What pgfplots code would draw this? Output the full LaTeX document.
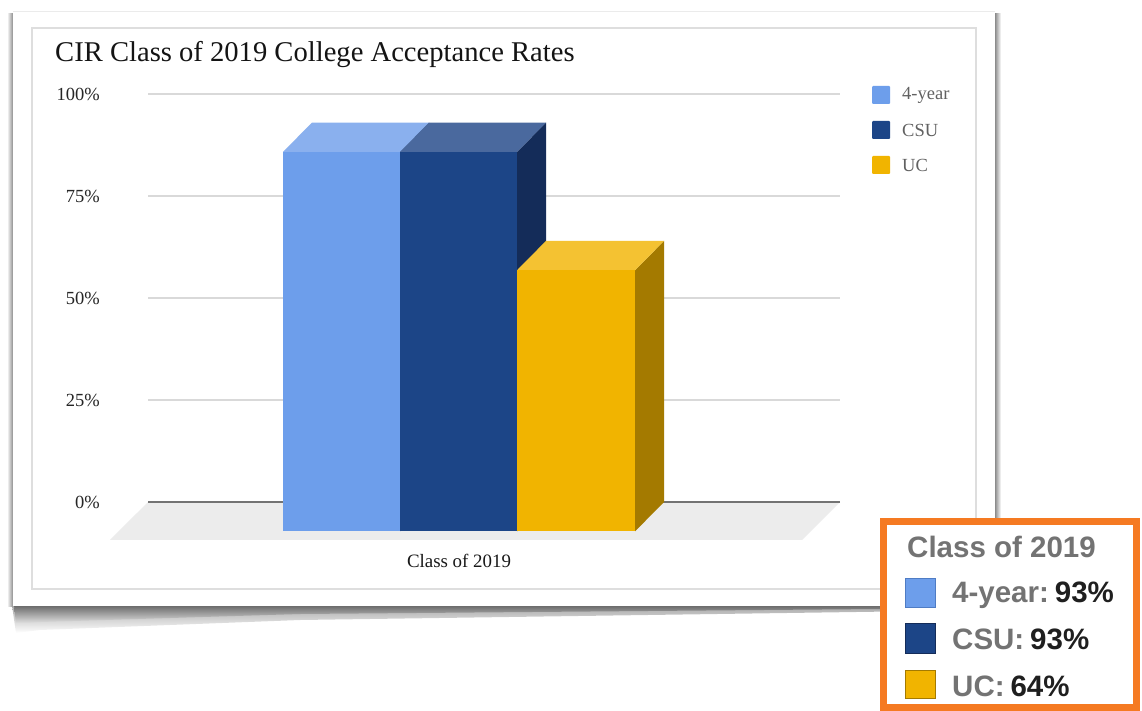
\documentclass[border=0pt]{standalone}
\usepackage{fontspec}
\setmainfont{Liberation Serif}
\newfontfamily\calloutfont{Liberation Sans}
\usepackage{pgfplots}
\pgfplotsset{compat=1.18}

\definecolor{fouryr}{HTML}{6D9EEB}
\definecolor{fouryrtop}{HTML}{8AB0EE}
\definecolor{fouryrside}{HTML}{4F7CC4}
\definecolor{csu}{HTML}{1C4587}
\definecolor{csutop}{HTML}{4A699E}
\definecolor{csuside}{HTML}{142C59}
\definecolor{uc}{HTML}{F1B400}
\definecolor{uctop}{HTML}{F4C232}
\definecolor{ucside}{HTML}{A47A00}
\definecolor{floorc}{HTML}{ECECEC}
\definecolor{gridc}{HTML}{D9D9D9}
\definecolor{orangebox}{HTML}{F57A22}

\begin{document}
\begin{tikzpicture}[x=1pt,y=1pt]
  \useasboundingbox (0,0) rectangle (1142,-711);

  % card with its curled shadow
  \shade[top color=black!35, bottom color=white]
    (12,-605) -- (995,-605) -- (995,-610) -- (300,-620) -- (40,-630) -- (16,-633) -- cycle;
  \shade[top color=black!60, bottom color=black!10]
    (14,-605) -- (995,-605) -- (995,-608) -- (300,-614) -- (40,-622) -- (16,-624) -- cycle;
  \shade[left color=white, right color=black!45] (7,-14) rectangle (13,-606);
  \shade[left color=black!45, right color=white] (995,-14) rectangle (1001,-606);
  \fill[white] (13,-11) rectangle (995,-606);
  \draw[black!8] (13,-11) -- (995,-11);
  \draw[black!13, line width=1.2] (32,-28) rectangle (976,-589);

  \node[anchor=base west, inner sep=0, text=black!92,
        font=\fontsize{28.6}{32}\selectfont] at (55,-62)
    {CIR Class of 2019 College Acceptance Rates};

  \begin{axis}[
      at={(148pt,-502pt)}, anchor=south west,
      x=1pt, y=4.08pt,
      xmin=148, xmax=840, ymin=0, ymax=100,
      clip=false,
      axis line style={draw=none},
      xtick=\empty,
      ytick={0,25,50,75,100},
      yticklabels={0\%,25\%,50\%,75\%,100\%},
      major tick length=0pt,
      ymajorgrids,
      grid style={gridc, line width=1.2pt},
      yticklabel style={font=\fontsize{18.5}{20}\selectfont, text=black!85,
                        anchor=east, inner sep=0pt, xshift=-48pt},
    ]

    % floor and base line
    \addplot[fill=floorc, draw=none, forget plot]
      coordinates {(148,0) (840,0) (802,-9.31) (110,-9.31)} -- cycle;
    \addplot[black!55, line width=1.2pt, forget plot]
      coordinates {(148,0) (840,0)};

    % 4-year: 93%
    \addplot[fill=fouryrside, draw=none, forget plot]
      coordinates {(400,85.8) (429,93) (429,0) (400,-7.2)} -- cycle;
    \addplot[fill=fouryrtop, draw=none, forget plot]
      coordinates {(283,85.8) (312,93) (429,93) (400,85.8)} -- cycle;
    \addplot[fill=fouryr, draw=none, forget plot]
      coordinates {(283,-7.2) (283,85.8) (400,85.8) (400,-7.2)} -- cycle;

    % CSU: 93%
    \addplot[fill=csuside, draw=none, forget plot]
      coordinates {(517,85.8) (546,93) (546,0) (517,-7.2)} -- cycle;
    \addplot[fill=csutop, draw=none, forget plot]
      coordinates {(400,85.8) (429,93) (546,93) (517,85.8)} -- cycle;
    \addplot[fill=csu, draw=none, forget plot]
      coordinates {(400,-7.2) (400,85.8) (517,85.8) (517,-7.2)} -- cycle;

    % UC: 64%
    \addplot[fill=ucside, draw=none, forget plot]
      coordinates {(635,56.8) (664,64) (664,0) (635,-7.2)} -- cycle;
    \addplot[fill=uctop, draw=none, forget plot]
      coordinates {(517,56.8) (546,64) (664,64) (635,56.8)} -- cycle;
    \addplot[fill=uc, draw=none, forget plot]
      coordinates {(517,-7.2) (517,56.8) (635,56.8) (635,-7.2)} -- cycle;
  \end{axis}

  \node[anchor=base, inner sep=0, text=black!90,
        font=\fontsize{18.9}{20}\selectfont] at (459,-567) {Class of 2019};

  % legend
  \fill[fouryr, rounded corners=1pt] (872,-86) rectangle (890,-104);
  \fill[csu, rounded corners=1pt] (872,-121) rectangle (890,-139);
  \fill[uc, rounded corners=1pt] (872,-156) rectangle (890,-174);
  \begin{scope}[every node/.style={anchor=west, inner sep=0, text=black!62,
                font=\fontsize{18.5}{20}\selectfont}]
    \node at (902,-95) {4-year};
    \node at (902,-130) {CSU};
    \node at (902,-165) {UC};
  \end{scope}

  % callout
  \fill[white] (880,-518) rectangle (1140,-711);
  \draw[orangebox, line width=7] (883.5,-521.5) rectangle (1136.5,-707.5);
  \begin{scope}[every node/.style={anchor=base west, inner sep=0,
                font=\calloutfont\bfseries\fontsize{29.5}{32}\selectfont}]
    \node[text=black!55] at (907,-557) {Class of 2019};
    \filldraw[fill=fouryr, draw=fouryrside, line width=1] (905,-578) rectangle (935,-607);
    \filldraw[fill=csu, draw=csuside, line width=1] (905,-623) rectangle (935,-653);
    \filldraw[fill=uc, draw=ucside, line width=1] (905,-670) rectangle (935,-698);
    \node at (952,-602) {\color{black!55}4-year:\hspace{0.2em}\color{black!88}93\%};
    \node at (952,-649) {\color{black!55}CSU:\hspace{0.2em}\color{black!88}93\%};
    \node at (952,-696) {\color{black!55}UC:\hspace{0.2em}\color{black!88}64\%};
  \end{scope}
\end{tikzpicture}
\end{document}
